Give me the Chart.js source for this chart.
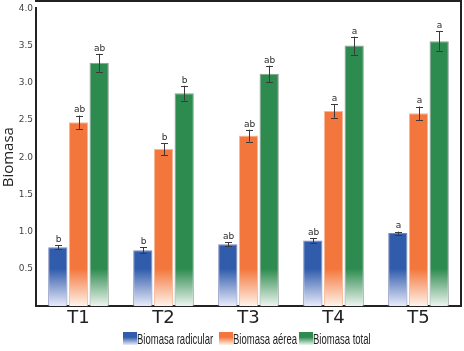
<!DOCTYPE html>
<html>
<head>
<meta charset="utf-8">
<script src="https://cdn.jsdelivr.net/npm/chart.js"></script>
<style>
  html, body { margin: 0; padding: 0; background: #fff; }
  #wrap { width: 464px; height: 351px; }
</style>
</head>
<body>
<div id="wrap"><canvas id="biomasa" width="464" height="351"></canvas></div>
<script>
// data
var tratamientos = ["T1", "T2", "T3", "T4", "T5"];
var radicular = [0.79, 0.75, 0.83, 0.88, 0.98];
var aerea = [2.47, 2.11, 2.29, 2.62, 2.59];
var total = [3.27, 2.86, 3.12, 3.50, 3.56];
var errRadicular = [0.03, 0.04, 0.03, 0.03, 0.02];
var errAerea = [0.09, 0.08, 0.08, 0.09, 0.09];
var errTotal = [0.12, 0.10, 0.11, 0.12, 0.13];
var letrasRadicular = ["b", "b", "ab", "ab", "a"];
var letrasAerea = ["ab", "b", "ab", "a", "a"];
var letrasTotal = ["ab", "b", "ab", "a", "a"];
var nombres = ["Biomasa radicular", "Biomasa aérea", "Biomasa total"];
var yTicks = [0.5, 1.0, 1.5, 2.0, 2.5, 3.0, 3.5, 4.0];

var colores = ["#305cab", "#f3773d", "#2e8b4f"];
var palidos = ["#e9ebfa", "#fff3ea", "#eef5ef"];
var bordes = ["#7c85b8", "#f6b895", "#8d9a93"];

// fade the bottom of every bar
function degradado(i) {
    return function(ctx) {
        var chart = ctx.chart;
        if (!chart.chartArea) return colores[i];
        var y = chart.scales.y;
        var g = chart.ctx.createLinearGradient(0, y.getPixelForValue(0), 0, y.getPixelForValue(0.5));
        g.addColorStop(0, palidos[i]);
        g.addColorStop(1, colores[i]);
        return g;
    };
}

var errores = [errRadicular, errAerea, errTotal];
var letras = [letrasRadicular, letrasAerea, letrasTotal];

var extras = {
    id: 'extras',
    afterDatasetsDraw: function(chart) {
        var c = chart.ctx;
        var y = chart.scales.y;
        c.save();
        chart.data.datasets.forEach(function(ds, i) {
            var meta = chart.getDatasetMeta(i);
            meta.data.forEach(function(bar, j) {
                var v = ds.data[j];
                var e = errores[i][j];
                var top = y.getPixelForValue(v + e);
                var bot = y.getPixelForValue(v - e);
                var x = Math.round(bar.x) + 0.5;
                c.strokeStyle = '#3a3a3a';
                c.lineWidth = 1;
                c.beginPath();
                c.moveTo(x, top); c.lineTo(x, bot);
                c.moveTo(x - 3.5, Math.round(top) + 0.5); c.lineTo(x + 3.5, Math.round(top) + 0.5);
                c.moveTo(x - 3.5, Math.round(bot) + 0.5); c.lineTo(x + 3.5, Math.round(bot) + 0.5);
                c.stroke();
                c.fillStyle = '#2a2a2a';
                c.font = '9px "DejaVu Sans"';
                c.textAlign = 'center';
                c.textBaseline = 'bottom';
                c.fillText(letras[i][j], x, top - 1);
            });
        });
        c.restore();
    },
    afterDraw: function(chart) {
        var c = chart.ctx;
        var a = chart.chartArea;
        c.save();
        // frame top and right
        c.strokeStyle = '#222';
        c.lineWidth = 2;
        c.beginPath();
        c.moveTo(a.left - 1, 1); c.lineTo(a.right + 1, 1);
        c.moveTo(a.right, 0); c.lineTo(a.right, a.bottom + 1);
        c.stroke();
        // legend, narrow text
        var xs = [123, 219, 299];
        c.font = '14px "Liberation Sans"';
        c.textAlign = 'left';
        c.textBaseline = 'alphabetic';
        for (var i = 0; i < 3; i++) {
            var g = c.createLinearGradient(0, 345, 0, 332);
            g.addColorStop(0, palidos[i]);
            g.addColorStop(0.6, colores[i]);
            g.addColorStop(1, colores[i]);
            c.fillStyle = g;
            c.fillRect(xs[i], 332, 14, 13);
            c.fillStyle = '#222';
            c.save();
            c.translate(xs[i] + 14, 344);
            c.scale(0.68, 1);
            c.fillText(nombres[i], 0, 0);
            c.restore();
        }
        c.restore();
    }
};

var ctx = document.getElementById('biomasa').getContext('2d');
var chart = new Chart(ctx, {
    type: 'bar',
    data: {
        labels: tratamientos,
        datasets: [radicular, aerea, total].map(function(d, i) {
            return {
                label: nombres[i],
                data: d,
                backgroundColor: degradado(i),
                borderColor: bordes[i],
                borderWidth: 1,
                categoryPercentage: 0.73,
                barPercentage: 0.93
            };
        })
    },
    options: {
        responsive: false,
        animation: false,
        layout: { padding: { top: 2, right: 3, left: 0, bottom: 0 } },
        plugins: {
            legend: { display: false },
            tooltip: { enabled: false }
        },
        scales: {
            x: {
                grid: { display: false, drawTicks: false },
                border: { color: '#222', width: 2 },
                ticks: { color: '#222', font: { family: 'DejaVu Sans', size: 18 }, padding: 2 },
                afterFit: function(s) { s.height = 45; }
            },
            y: {
                min: 0,
                max: 4.0,
                grid: { display: false, drawTicks: false },
                border: { color: '#222', width: 2 },
                afterBuildTicks: function(s) {
                    s.ticks = yTicks.map(function(v) { return { value: v }; });
                },
                ticks: {
                    color: '#444',
                    font: { family: 'DejaVu Sans', size: 9 },
                    padding: 3,
                    callback: function(v) { return v.toFixed(1); }
                },
                title: {
                    display: true,
                    text: 'Biomasa',
                    color: '#222',
                    font: { family: 'Open Sans', size: 15 },
                    padding: { top: 0, bottom: 0 }
                },
                afterFit: function(s) { s.width = 36; }
            }
        }
    },
    plugins: [extras]
});
</script>
</body>
</html>
